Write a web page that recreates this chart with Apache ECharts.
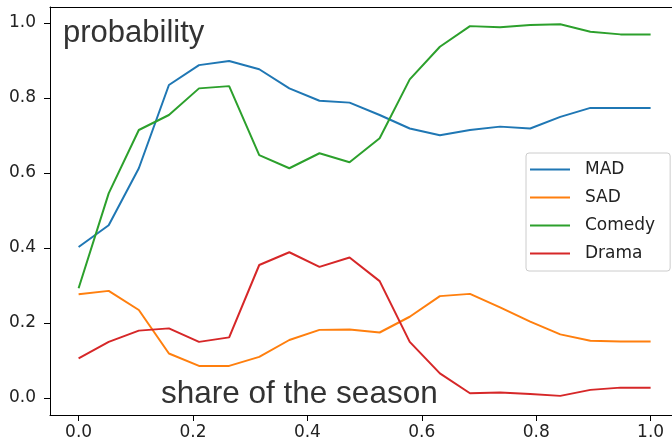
<!DOCTYPE html>
<html>
<head>
<meta charset="utf-8">
<script src="https://cdn.jsdelivr.net/npm/echarts@6/dist/echarts.min.js"></script>
<style>
  html, body { margin: 0; padding: 0; background: #fff; }
  #chart { width: 672px; height: 446px; }
</style>
</head>
<body>
<div id="chart"></div>
<script>
// Share of the season (x) for each sampled episode position
const share = [0.0, 0.0526, 0.1053, 0.1579, 0.2105, 0.2632, 0.3158, 0.3684, 0.4211, 0.4737,
               0.5263, 0.5789, 0.6316, 0.6842, 0.7368, 0.7895, 0.8421, 0.8947, 0.9474, 1.0];

// Probability per class
const mad    = [0.402, 0.460, 0.612, 0.834, 0.887, 0.898, 0.876, 0.825, 0.792, 0.787,
                0.754, 0.718, 0.700, 0.714, 0.723, 0.718, 0.749, 0.773, 0.773, 0.773];
const sad    = [0.276, 0.285, 0.234, 0.118, 0.085, 0.085, 0.109, 0.154, 0.181, 0.182,
                0.174, 0.216, 0.271, 0.277, 0.241, 0.203, 0.169, 0.152, 0.150, 0.150];
const comedy = [0.292, 0.545, 0.714, 0.754, 0.825, 0.831, 0.647, 0.612, 0.652, 0.628,
                0.692, 0.849, 0.936, 0.991, 0.988, 0.994, 0.996, 0.976, 0.969, 0.969];
const drama  = [0.105, 0.149, 0.179, 0.185, 0.149, 0.161, 0.354, 0.388, 0.349, 0.374,
                0.311, 0.149, 0.065, 0.012, 0.014, 0.010, 0.005, 0.021, 0.027, 0.027];

const seriesNames = ['MAD', 'SAD', 'Comedy', 'Drama'];
const seriesColors = ['#1f77b4', '#ff7f0e', '#2ca02c', '#d62728'];
const seriesValues = [mad, sad, comedy, drama];

const xTicks = [0.0, 0.2, 0.4, 0.6, 0.8, 1.0];
const yTicks = [0.0, 0.2, 0.4, 0.6, 0.8, 1.0];

const tickFont = { fontFamily: 'DejaVu Sans', fontSize: 17, color: '#222' };

const chart = echarts.init(document.getElementById('chart'), null, { renderer: 'canvas' });

// The plot frame runs past the right edge of the canvas, so the x range
// continues beyond 1.0 up to the canvas border.
const X_MIN = -0.05, X_MAX = 1.0374;

chart.setOption({
  animation: false,
  backgroundColor: '#fff',
  grid: { left: 50, top: 7, right: 0, bottom: 31, show: false },
  xAxis: [
    {
      type: 'value', min: X_MIN, max: X_MAX, position: 'bottom',
      splitLine: { show: false },
      axisLine: { show: true, onZero: false, lineStyle: { color: '#000', width: 1 } },
      axisTick: { show: true, length: 6, inside: false, customValues: xTicks, lineStyle: { color: '#000' } },
      axisLabel: Object.assign({ margin: 9, customValues: xTicks, formatter: v => v.toFixed(1) }, tickFont)
    },
    {
      type: 'value', min: X_MIN, max: X_MAX, position: 'top',
      splitLine: { show: false },
      axisLine: { show: true, onZero: false, lineStyle: { color: '#000', width: 1 } },
      axisTick: { show: false },
      axisLabel: { show: false }
    }
  ],
  yAxis: {
    type: 'value', min: -0.046, max: 1.042,
    splitLine: { show: false },
    axisLine: { show: true, onZero: false, lineStyle: { color: '#000', width: 1 } },
    axisTick: { show: true, length: 6, inside: false, customValues: yTicks, lineStyle: { color: '#000' } },
    axisLabel: Object.assign({ margin: 14, customValues: yTicks, formatter: v => v.toFixed(1) }, tickFont)
  },
  legend: {
    orient: 'vertical',
    left: 526, top: 153,
    padding: [8, 15, 9, 4],
    itemGap: 11,
    itemWidth: 40, itemHeight: 2,
    icon: 'rect',
    backgroundColor: 'rgba(255,255,255,0.85)',
    borderColor: '#cccccc', borderWidth: 1, borderRadius: 3,
    textStyle: { fontFamily: 'DejaVu Sans', fontSize: 17, color: '#222', padding: [0, 0, 0, 10] },
    data: seriesNames
  },
  series: seriesNames.map((name, k) => ({
    name: name,
    type: 'line',
    symbol: 'none',
    color: seriesColors[k],
    lineStyle: { width: 2, color: seriesColors[k] },
    data: share.map((x, i) => [x, seriesValues[k][i]])
  })),
  graphic: [
    {
      type: 'text', left: 63, top: 18, z: 100,
      style: { text: 'probability', fontFamily: 'Liberation Sans', fontSize: 31, fill: '#333' }
    },
    {
      type: 'text', left: 161, top: 378, z: 100,
      style: { text: 'share of the season', fontFamily: 'Liberation Sans', fontSize: 31.5, fill: '#333' }
    }
  ]
});
</script>
</body>
</html>
